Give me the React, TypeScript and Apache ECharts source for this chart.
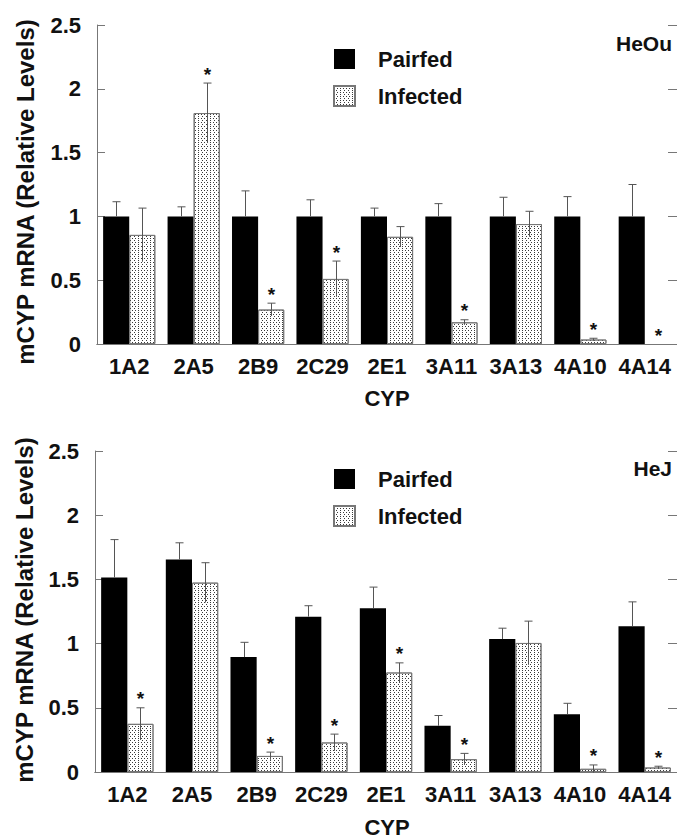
import React, { useEffect, useRef } from "react";
import * as echarts from "echarts";

const categories = ["1A2", "2A5", "2B9", "2C29", "2E1", "3A11", "3A13", "4A10", "4A14"];
const seriesNames = ["Pairfed", "Infected"];
const panelLabels = ["HeOu", "HeJ"];

const heouPairfed = [1, 1, 1, 1, 1, 1, 1, 1, 1];
const heouPairfedErr = [0.115, 0.075, 0.2, 0.13, 0.065, 0.1, 0.15, 0.155, 0.25];
const heouInfected = [0.855, 1.81, 0.27, 0.51, 0.84, 0.17, 0.94, 0.035, 0];
const heouInfectedErr = [0.21, 0.235, 0.05, 0.14, 0.08, 0.02, 0.1, 0.01, 0];
const heouStars = [0, 1, 1, 1, 0, 1, 0, 1, 1];

const hejPairfed = [1.515, 1.655, 0.895, 1.21, 1.275, 0.36, 1.035, 0.45, 1.135];
const hejPairfedErr = [0.295, 0.13, 0.115, 0.085, 0.165, 0.08, 0.085, 0.085, 0.19];
const hejInfected = [0.375, 1.475, 0.125, 0.23, 0.775, 0.1, 1.005, 0.025, 0.035];
const hejInfectedErr = [0.125, 0.155, 0.03, 0.065, 0.075, 0.045, 0.17, 0.03, 0.01];
const hejStars = [1, 0, 1, 1, 1, 1, 0, 1, 1];

const FONT = '"Liberation Sans", Arial, Helvetica, sans-serif';
const GAP = 0.19;
const AXIS_COLOR = "#777";
const TEXT_COLOR = "#111";

function renderErr(params: any, api: any) {
  const idx = api.value(0);
  const val = api.value(1);
  const err = api.value(2);
  const side = api.value(3);
  const star = api.value(4);
  const band = api.size([1, 0])[0];
  const barW = (band * (1 - GAP)) / 2;
  const c = api.coord([idx, val]);
  const x = Math.round(c[0] + (side === 0 ? -barW / 2 : barW / 2)) + 0.5;
  const top = api.coord([idx, val + err])[1];
  const bot = side === 0 ? c[1] : api.coord([idx, val - err])[1];
  const children: any[] = [];
  if (err > 0) {
    children.push({
      type: "line",
      shape: { x1: x, y1: top, x2: x, y2: bot },
      style: { stroke: "#555", lineWidth: 1 },
    });
    children.push({
      type: "line",
      shape: { x1: x - 4, y1: top, x2: x + 4, y2: top },
      style: { stroke: "#555", lineWidth: 1 },
    });
  }
  if (star) {
    children.push({
      type: "text",
      style: {
        text: "*",
        x: x,
        y: top - 9,
        align: "center",
        verticalAlign: "middle",
        font: `bold 19px ${FONT}`,
        fill: TEXT_COLOR,
      },
    });
  }
  return { type: "group", children };
}

function errData(vals: number[], errs: number[], side: number, stars: number[] | null) {
  return vals.map((v, i) => [i, v, errs[i], side, stars ? stars[i] : 0]);
}

const decal = {
  symbol: "rect",
  symbolSize: 1,
  dashArrayX: [
    [1, 1.5],
    [0, 1.25, 1, 0.25],
  ],
  dashArrayY: [1, 1],
  color: "#3a3a3a",
  rotation: 0,
};

function panel(gi: number, pf: number[], pfErr: number[], inf: number[], infErr: number[], stars: number[]) {
  const xAxisBottom = {
    type: "category",
    gridIndex: gi,
    data: categories,
    position: "bottom",
    axisLine: { show: true, lineStyle: { color: AXIS_COLOR, width: 1 } },
    axisTick: { show: false },
    axisLabel: {
      margin: 11,
      color: TEXT_COLOR,
      fontSize: 22,
      fontWeight: "bold",
      fontFamily: FONT,
      interval: 0,
    },
  };
  const xAxisTop = {
    type: "category",
    gridIndex: gi,
    data: categories,
    position: "top",
    axisLine: { show: true, lineStyle: { color: AXIS_COLOR, width: 1 } },
    axisTick: { show: false },
    axisLabel: { show: false },
  };
  const yLeft = {
    type: "value",
    gridIndex: gi,
    min: 0,
    max: 2.5,
    interval: 0.5,
    position: "left",
    splitLine: { show: false },
    axisLine: { show: true, lineStyle: { color: AXIS_COLOR, width: 1 } },
    axisTick: { show: true, inside: true, length: 8, lineStyle: { color: AXIS_COLOR } },
    axisLabel: {
      margin: 16,
      color: TEXT_COLOR,
      fontSize: 22,
      fontWeight: "bold",
      fontFamily: FONT,
      formatter: (v: number) => String(v),
    },
  };
  const yRight = {
    type: "value",
    gridIndex: gi,
    min: 0,
    max: 2.5,
    interval: 0.5,
    position: "right",
    splitLine: { show: false },
    axisLine: { show: false },
    axisTick: { show: true, inside: true, length: 9, lineStyle: { color: AXIS_COLOR } },
    axisLabel: { show: false },
  };
  const xb = gi * 2;
  const yb = gi * 2;
  const series = [
    {
      name: seriesNames[0],
      type: "bar",
      xAxisIndex: xb,
      yAxisIndex: yb,
      data: pf,
      barGap: "0%",
      barCategoryGap: GAP * 100 + "%",
      itemStyle: { color: "#000" },
      z: 2,
    },
    {
      name: seriesNames[1],
      type: "bar",
      xAxisIndex: xb,
      yAxisIndex: yb,
      data: inf.map((v) => (v === 0 ? "-" : v)),
      barGap: "0%",
      barCategoryGap: GAP * 100 + "%",
      itemStyle: { color: "#fff", borderColor: "#777", borderWidth: 1, decal },
      z: 2,
    },
    {
      type: "custom",
      xAxisIndex: xb,
      yAxisIndex: yb,
      renderItem: renderErr,
      data: errData(pf, pfErr, 0, null),
      encode: { x: 0, y: 1 },
      z: 5,
      silent: true,
    },
    {
      type: "custom",
      xAxisIndex: xb,
      yAxisIndex: yb,
      renderItem: renderErr,
      data: errData(inf, infErr, 1, stars),
      encode: { x: 0, y: 1 },
      z: 5,
      silent: true,
    },
  ];
  return { xAxes: [xAxisBottom, xAxisTop], yAxes: [yLeft, yRight], series };
}

function txt(text: string, x: number, y: number, size: number, rotate = false) {
  return {
    type: "text",
    x,
    y,
    rotation: rotate ? Math.PI / 2 : 0,
    style: {
      text,
      align: "center",
      verticalAlign: "middle",
      font: `bold ${size}px ${FONT}`,
      fill: TEXT_COLOR,
    },
  };
}

export default function App() {
  const ref = useRef<HTMLDivElement>(null);
  useEffect(() => {
    if (!ref.current) return;
    const chart = echarts.init(ref.current, null, { renderer: "svg" });
    const p1 = panel(0, heouPairfed, heouPairfedErr, heouInfected, heouInfectedErr, heouStars);
    const p2 = panel(1, hejPairfed, hejPairfedErr, hejInfected, hejInfectedErr, hejStars);
    const legendBase = {
      orient: "vertical",
      padding: 0,
      itemWidth: 21,
      itemHeight: 20,
      itemGap: 15,
      icon: "rect",
      selectedMode: false,
      data: seriesNames,
      textStyle: {
        color: TEXT_COLOR,
        fontSize: 22,
        fontWeight: "bold",
        fontFamily: FONT,
        padding: [0, 0, 0, 18],
      },
    };
    const option: any = {
      animation: false,
      backgroundColor: "#fff",
      grid: [
        { left: 97, top: 25, width: 580, height: 319 },
        { left: 95, top: 451, width: 582, height: 321 },
      ],
      xAxis: [...p1.xAxes, ...p2.xAxes],
      yAxis: [...p1.yAxes, ...p2.yAxes],
      legend: [
        { ...legendBase, left: 333, top: 48 },
        { ...legendBase, left: 333, top: 468 },
      ],
      series: [...p1.series, ...p2.series],
      graphic: [
        {
          type: "text",
          x: 672,
          y: 43,
          style: {
            text: panelLabels[0],
            align: "right",
            verticalAlign: "middle",
            font: `bold 21px ${FONT}`,
            fill: TEXT_COLOR,
          },
        },
        {
          type: "text",
          x: 672,
          y: 468,
          style: {
            text: panelLabels[1],
            align: "right",
            verticalAlign: "middle",
            font: `bold 21px ${FONT}`,
            fill: TEXT_COLOR,
          },
        },
        txt("mCYP mRNA (Relative Levels)", 25, 192, 24, true),
        txt("mCYP mRNA (Relative Levels)", 24, 610, 24, true),
        txt("CYP", 387, 398, 22),
        txt("CYP", 387, 827, 22),
      ],
    };
    chart.setOption(option);
    return () => chart.dispose();
  }, []);
  return (
    <div
      ref={ref}
      style={{ position: "absolute", left: 0, top: 0, width: 677, height: 838, background: "#fff" }}
    />
  );
}
